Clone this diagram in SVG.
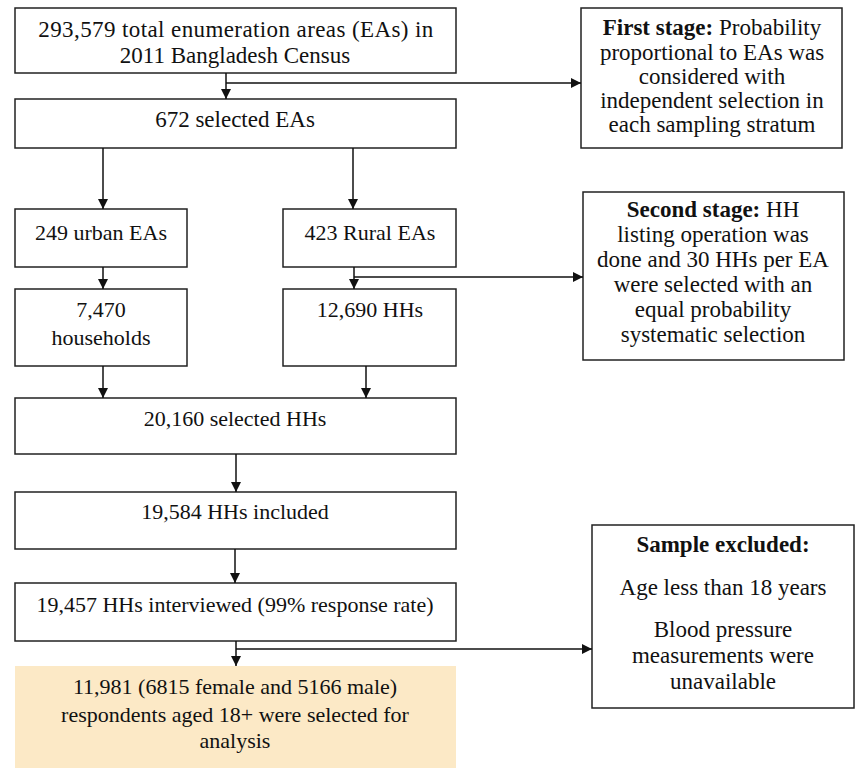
<svg xmlns="http://www.w3.org/2000/svg" width="857" height="781" viewBox="0 0 857 781">
<defs>
<marker id="arr" markerUnits="userSpaceOnUse" markerWidth="10" markerHeight="10" refX="10" refY="5" orient="auto">
<path d="M0,0 L10,5 L0,10 z" fill="#111"/>
</marker>
<style>
.box{fill:#fff;stroke:#222;stroke-width:1.5}
.hl{fill:#fce9c6;stroke:none}
.g{font-family:"Liberation Serif","Times New Roman",serif;font-size:23px;fill:#111;text-anchor:middle}
.t{font-family:"Liberation Serif","Times New Roman",serif;font-size:22px;fill:#111;text-anchor:middle}
.b{font-weight:bold}
.c line{stroke:#111;stroke-width:1.5}
.c line.a{marker-end:url(#arr)}
</style>
</defs>
<rect width="857" height="781" fill="#fff"/>
<g id="census">
<rect class="box" x="15" y="8" width="441" height="65"/>
<text class="g" x="236" y="37" letter-spacing="0.4">293,579 total enumeration areas (EAs) in</text>
<text class="g" x="235" y="63">2011 Bangladesh Census</text>
</g>
<g id="selected-eas">
<rect class="box" x="15" y="99" width="441" height="49"/>
<text class="g" x="235" y="127">672 selected EAs</text>
</g>
<g id="first-stage">
<rect class="box" x="581" y="8" width="261" height="140"/>
<text class="g" x="712" y="35"><tspan class="b">First stage:</tspan> Probability</text>
<text class="g" x="712" y="60">proportional to EAs was</text>
<text class="g" x="712" y="84">considered with</text>
<text class="g" x="712" y="108">independent selection in</text>
<text class="g" x="712" y="132">each sampling stratum</text>
</g>
<g id="urban">
<rect class="box" x="15" y="209" width="172" height="58"/>
<text class="t" x="101" y="240">249 urban EAs</text>
</g>
<g id="rural">
<rect class="box" x="283" y="209" width="173" height="58"/>
<text class="t" x="370" y="240">423 Rural EAs</text>
</g>
<g id="households">
<rect class="box" x="15" y="289" width="172" height="77"/>
<text class="t" x="101" y="317">7,470</text>
<text class="t" x="101" y="345">households</text>
</g>
<g id="rural-hhs">
<rect class="box" x="283" y="289" width="173" height="77"/>
<text class="t" x="370" y="317">12,690 HHs</text>
</g>
<g id="second-stage">
<rect class="box" x="583" y="192" width="261" height="168"/>
<text class="g" x="713" y="217"><tspan class="b">Second stage:</tspan> HH</text>
<text class="g" x="713" y="242">listing operation was</text>
<text class="g" x="713" y="267">done and 30 HHs per EA</text>
<text class="g" x="713" y="292">were selected with an</text>
<text class="g" x="713" y="317">equal probability</text>
<text class="g" x="713" y="342">systematic selection</text>
</g>
<g id="selected-hhs">
<rect class="box" x="15" y="398" width="441" height="56"/>
<text class="t" x="235" y="426">20,160 selected HHs</text>
</g>
<g id="included">
<rect class="box" x="15" y="492" width="441" height="57"/>
<text class="t" x="235" y="519">19,584 HHs included</text>
</g>
<g id="interviewed">
<rect class="box" x="15" y="583" width="441" height="58"/>
<text class="t" x="235" y="612">19,457 HHs interviewed (99% response rate)</text>
</g>
<g id="analysis">
<rect class="hl" x="15" y="666" width="441" height="102"/>
<text class="t" x="235" y="694">11,981 (6815 female and 5166 male)</text>
<text class="t" x="235" y="722">respondents aged 18+ were selected for</text>
<text class="t" x="235" y="748">analysis</text>
</g>
<g id="excluded">
<rect class="box" x="592" y="525" width="262" height="183"/>
<text class="g b" x="723" y="552">Sample excluded:</text>
<text class="g" x="723" y="595">Age less than 18 years</text>
<text class="g" x="723" y="637">Blood pressure</text>
<text class="g" x="723" y="663">measurements were</text>
<text class="g" x="723" y="689">unavailable</text>
</g>
<g id="connectors" class="c">
<line class="a" x1="226" y1="73" x2="226" y2="99"/>
<line class="a" x1="226" y1="83" x2="581" y2="83"/>
<line class="a" x1="103" y1="148" x2="103" y2="209"/>
<line class="a" x1="353" y1="148" x2="353" y2="209"/>
<line class="a" x1="103" y1="267" x2="103" y2="289"/>
<line class="a" x1="354" y1="267" x2="354" y2="289"/>
<line class="a" x1="354" y1="277" x2="583" y2="277"/>
<line class="a" x1="103" y1="366" x2="103" y2="398"/>
<line class="a" x1="366" y1="366" x2="366" y2="398"/>
<line class="a" x1="236" y1="454" x2="236" y2="492"/>
<line class="a" x1="235" y1="549" x2="235" y2="583"/>
<line class="a" x1="236" y1="641" x2="236" y2="666"/>
<line class="a" x1="236" y1="649" x2="592" y2="649"/>
</g>
</svg>
